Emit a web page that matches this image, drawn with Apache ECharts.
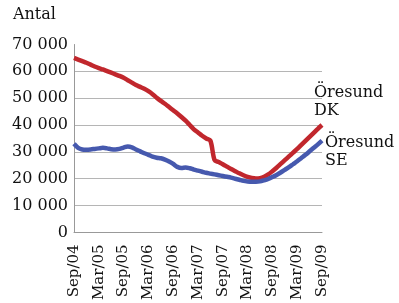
<!DOCTYPE html>
<html><head><meta charset="utf-8">
<script src="https://cdn.jsdelivr.net/npm/echarts@6/dist/echarts.min.js"></script>
<style>html,body{margin:0;padding:0;background:#fff}#c{width:399px;height:303px}</style>
</head><body><div id="c"></div>
<script>
const monthNames = ['Jan','Feb','Mar','Apr','May','Jun','Jul','Aug','Sep','Oct','Nov','Dec'];
// Monthly categories Sep/04 .. Sep/09
const categories = [];
for (let k = 0; k < 61; k++) {
  const m = (8 + k) % 12;
  const y = 4 + Math.floor((8 + k) / 12);
  categories.push(monthNames[m] + '/' + String(y).padStart(2, '0'));
}
const seriesNames = ['Öresund DK', 'Öresund SE'];
const dkValues = [65000,64400,63800,63200,62500,61800,61200,60700,60100,59500,58900,58300,
  57600,56700,55800,54900,54200,53500,52600,51500,50200,49000,47900,46700,
  45500,44300,43000,41600,40000,38400,37200,36000,35000,34200,27000,26200,
  25400,24500,23600,22800,22000,21300,20700,20300,20100,20200,20700,21600,
  22800,24100,25500,26900,28300,29700,31100,32600,34100,35600,37100,38600,40000];
const seValues = [33000,31500,30900,30800,30900,31100,31300,31500,31300,31000,30900,31100,
  31600,32000,31700,30900,30200,29500,28900,28200,27800,27600,27100,26400,
  25500,24400,24000,24200,23900,23400,23000,22600,22200,21900,21600,21300,
  21000,20700,20400,20000,19600,19200,19000,18900,18900,19000,19400,19900,
  20600,21400,22300,23300,24300,25400,26500,27700,28900,30200,31500,32800,34200];
const yTicks = [0,10000,20000,30000,40000,50000,60000,70000];
const yTitle = 'Antal';
const endLabels = ['Öresund\nDK', 'Öresund\nSE'];

const FONT = 'DejaVu Serif';
const chart = echarts.init(document.getElementById('c'), null, {renderer:'canvas'});
chart.setOption({
  animation:false,
  backgroundColor:'#fff',
  grid:{left:74, right:77, top:44.5, bottom:66},
  xAxis:{
    type:'category', data:categories, boundaryGap:false,
    axisLine:{lineStyle:{color:'#999', width:1}},
    axisTick:{show:false},
    axisLabel:{interval:5, rotate:90, color:'#111', fontFamily:FONT, fontSize:15, margin:12}
  },
  yAxis:{
    type:'value', min:yTicks[0], max:yTicks[yTicks.length-1], interval:10000,
    axisLine:{show:true, lineStyle:{color:'#999', width:1}},
    axisTick:{show:false},
    splitLine:{show:true, showMaxLine:false, lineStyle:{color:'#b5b5b5', width:1}},
    axisLabel:{color:'#111', fontFamily:FONT, fontSize:16, margin:6,
      formatter:v=>String(v).replace(/\B(?=(\d{3})+(?!\d))/g,' ')}
  },
  series:[
    {name:seriesNames[0], type:'line', data:dkValues, symbol:'none', smooth:0.3,
      lineStyle:{color:'#c1272d', width:4.5}, z:3},
    {name:seriesNames[1], type:'line', data:seValues, symbol:'none', smooth:0.3,
      lineStyle:{color:'#4659ae', width:4.5}, z:4}
  ],
  graphic:[
    {type:'text', left:13, top:7, style:{text:yTitle, font:'16px "DejaVu Serif"', fill:'#111'}},
    {type:'text', left:314, top:84, style:{text:endLabels[0], font:'16px "DejaVu Serif"', fill:'#111', lineHeight:18}},
    {type:'text', left:325, top:134, style:{text:endLabels[1], font:'16px "DejaVu Serif"', fill:'#111', lineHeight:18}}
  ]
});
</script></body></html>
